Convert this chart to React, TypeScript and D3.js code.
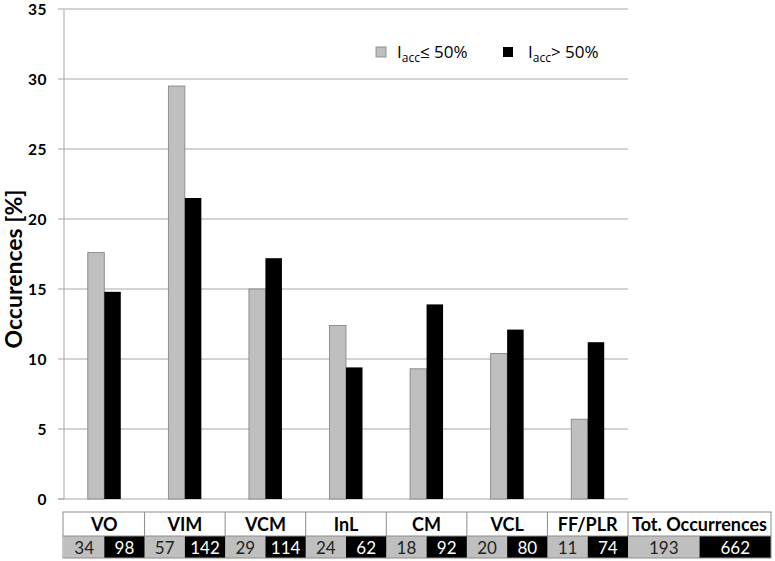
import { useEffect, useRef } from "react"
import * as d3 from "d3"

const categories = ["VO", "VIM", "VCM", "InL", "CM", "VCL", "FF/PLR"]
const lowShare = [17.6, 29.5, 15.0, 12.4, 9.3, 10.4, 5.7]
const highShare = [14.8, 21.5, 17.2, 9.4, 13.9, 12.1, 11.2]
const lowCounts = [34, 57, 29, 24, 18, 20, 11]
const highCounts = [98, 142, 114, 62, 92, 80, 74]
const totalLabel = "Tot. Occurrences"
const totals = [193, 662]
const yTicks = [0, 5, 10, 15, 20, 25, 30, 35]

const W = 775
const H = 561
const left = 64
const right = 628
const top = 9
const bottom = 499
const tableRight = 771

export default function App() {
  const ref = useRef<SVGSVGElement>(null)

  useEffect(() => {
    const svg = d3.select(ref.current)
    svg.selectAll("*").remove()

    const x = d3.scaleBand<string>().domain(categories).range([left, right])
    const y = d3.scaleLinear().domain([0, 35]).range([bottom, top])
    const barW = 16.5

    // grid
    svg.append("g")
      .selectAll("line")
      .data(yTicks.filter((t) => t > 0))
      .join("line")
      .attr("x1", left).attr("x2", right)
      .attr("y1", (d) => y(d)).attr("y2", (d) => y(d))
      .attr("stroke", "#a6a6a6").attr("stroke-width", 1)

    // axis lines
    svg.append("line").attr("x1", left).attr("x2", left).attr("y1", top).attr("y2", bottom)
      .attr("stroke", "#a6a6a6")
    svg.append("line").attr("x1", left - 6).attr("x2", right).attr("y1", bottom).attr("y2", bottom)
      .attr("stroke", "#a6a6a6")
    svg.append("g").selectAll("line").data(yTicks).join("line")
      .attr("x1", left - 6).attr("x2", left)
      .attr("y1", (d) => y(d)).attr("y2", (d) => y(d))
      .attr("stroke", "#a6a6a6")

    svg.append("g").selectAll("text").data(yTicks).join("text")
      .attr("x", 47).attr("y", (d) => y(d) + 6)
      .attr("text-anchor", "end")
      .attr("font-family", "Lato, sans-serif").attr("font-weight", "bold").attr("font-size", 15.5)
      .attr("letter-spacing", 0.5)
      .text((d) => d)

    svg.append("text")
      .attr("transform", `translate(22,269) rotate(-90)`)
      .attr("text-anchor", "middle")
      .attr("font-family", "Lato, sans-serif").attr("font-weight", "bold").attr("font-size", 23)
      .text("Occurences [%]")

    // bars
    const cx = (c: string) => (x(c) ?? 0) + x.bandwidth() / 2
    svg.append("g").selectAll("rect").data(categories).join("rect")
      .attr("x", (c) => cx(c) - barW)
      .attr("y", (c, i) => y(lowShare[i]))
      .attr("width", barW)
      .attr("height", (c, i) => bottom - y(lowShare[i]))
      .attr("fill", "#bfbfbf").attr("stroke", "#7f7f7f").attr("stroke-width", 0.8)
    svg.append("g").selectAll("rect").data(categories).join("rect")
      .attr("x", (c) => cx(c))
      .attr("y", (c, i) => y(highShare[i]))
      .attr("width", barW)
      .attr("height", (c, i) => bottom - y(highShare[i]))
      .attr("fill", "#000")

    // legend
    const lg = svg.append("g").attr("font-family", "'Open Sans', sans-serif").attr("font-size", 17)
    lg.append("rect").attr("x", 376).attr("y", 47).attr("width", 10).attr("height", 10)
      .attr("fill", "#bfbfbf").attr("stroke", "#7f7f7f").attr("stroke-width", 0.8)
    const t1 = lg.append("text").attr("x", 397).attr("y", 58)
    t1.append("tspan").text("I")
    t1.append("tspan").attr("dy", 4).attr("font-size", 12).text("acc")
    t1.append("tspan").attr("dy", -4).text("≤ 50%")
    lg.append("rect").attr("x", 503).attr("y", 47).attr("width", 10).attr("height", 10).attr("fill", "#000")
    const t2 = lg.append("text").attr("x", 528).attr("y", 58)
    t2.append("tspan").text("I")
    t2.append("tspan").attr("dy", 4).attr("font-size", 12).text("acc")
    t2.append("tspan").attr("dy", -4).text("> 50%")

    // table
    const rowTop = 512
    const rowMid = 536
    const rowBot = 558
    const tb = svg.append("g")
    const cols = categories.map((c, i) => ({
      name: c, x0: x(c) ?? 0, x1: (x(c) ?? 0) + x.bandwidth(), a: lowCounts[i], b: highCounts[i],
    }))
    cols.push({ name: totalLabel, x0: right, x1: tableRight, a: totals[0], b: totals[1] })

    tb.selectAll("rect.g").data(cols).join("rect")
      .attr("x", (d) => d.x0).attr("y", rowMid)
      .attr("width", (d) => (d.x1 - d.x0) / 2).attr("height", rowBot - rowMid)
      .attr("fill", "#bfbfbf")
    tb.selectAll("rect.k").data(cols).join("rect")
      .attr("x", (d) => (d.x0 + d.x1) / 2).attr("y", rowMid)
      .attr("width", (d) => (d.x1 - d.x0) / 2).attr("height", rowBot - rowMid)
      .attr("fill", "#000")
    tb.append("rect").attr("x", left - 1).attr("y", rowTop).attr("width", tableRight - left + 1)
      .attr("height", rowBot - rowTop).attr("fill", "none").attr("stroke", "#8c8c8c")
    tb.append("line").attr("x1", left - 1).attr("x2", tableRight).attr("y1", rowMid).attr("y2", rowMid)
      .attr("stroke", "#8c8c8c")
    tb.selectAll("line.v").data(cols.slice(1)).join("line")
      .attr("x1", (d) => d.x0).attr("x2", (d) => d.x0).attr("y1", rowTop).attr("y2", rowMid)
      .attr("stroke", "#8c8c8c")
    tb.selectAll("text.h").data(cols).join("text")
      .attr("x", (d) => (d.x0 + d.x1) / 2).attr("y", rowMid - 5)
      .attr("text-anchor", "middle")
      .attr("font-family", "Lato, sans-serif").attr("font-weight", "bold").attr("font-size", 18)
      .text((d) => d.name)
    tb.selectAll("text.a").data(cols).join("text")
      .attr("x", (d) => d.x0 + (d.x1 - d.x0) / 4).attr("y", rowBot - 4)
      .attr("text-anchor", "middle")
      .attr("font-family", "Lato, sans-serif").attr("font-size", 17).attr("fill", "#222")
      .text((d) => d.a)
    tb.selectAll("text.b").data(cols).join("text")
      .attr("x", (d) => d.x0 + (3 * (d.x1 - d.x0)) / 4).attr("y", rowBot - 4)
      .attr("text-anchor", "middle")
      .attr("font-family", "Lato, sans-serif").attr("font-size", 17).attr("fill", "#fff")
      .text((d) => d.b)
  }, [])

  return (
    <svg
      ref={ref}
      width={W}
      height={H}
      style={{ position: "absolute", left: 0, top: 0, background: "#fff" }}
    />
  )
}
